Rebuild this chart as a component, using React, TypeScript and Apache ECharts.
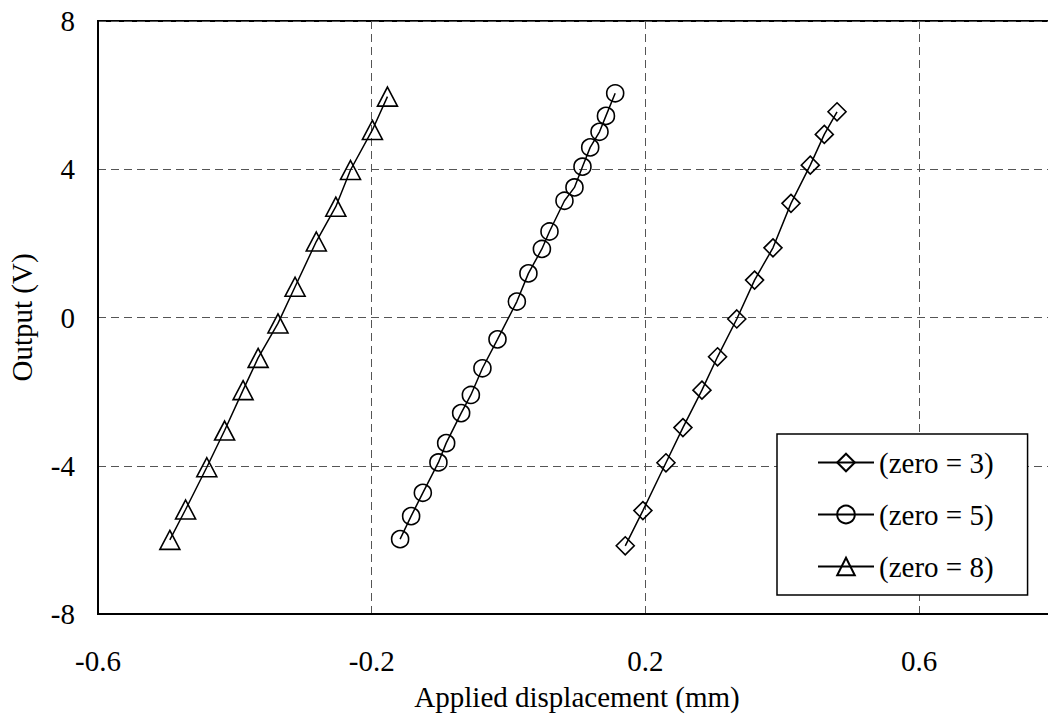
import React, { useEffect, useRef } from "react";
import * as echarts from "echarts";

const seriesNames = ["(zero = 3)", "(zero = 5)", "(zero = 8)"];

const zero3X = [0.1705, 0.1963, 0.23, 0.2548, 0.2826, 0.3054, 0.3335, 0.3595, 0.3864, 0.4127, 0.4409, 0.4614, 0.48];
const zero3Y = [-6.16, -5.21, -3.92, -2.97, -1.96, -1.06, -0.04, 1.01, 1.88, 3.08, 4.11, 4.94, 5.55];

const zero5X = [-0.1585, -0.1424, -0.1253, -0.1025, -0.0912, -0.0693, -0.0551, -0.0382, -0.0162, 0.0121, 0.029, 0.0487, 0.0598, 0.0817, 0.0963, 0.108, 0.1193, 0.1329, 0.1423, 0.1558];
const zero5Y = [-5.98, -5.36, -4.73, -3.91, -3.39, -2.58, -2.09, -1.37, -0.59, 0.43, 1.19, 1.85, 2.32, 3.15, 3.51, 4.07, 4.59, 5.01, 5.44, 6.05];

const zero8X = [-0.495, -0.472, -0.441, -0.415, -0.388, -0.366, -0.337, -0.312, -0.281, -0.2525, -0.231, -0.199, -0.177];
const zero8Y = [-6.0, -5.18, -4.04, -3.05, -1.96, -1.09, -0.16, 0.83, 2.05, 2.99, 3.98, 5.06, 5.96];

const xAxisTitle = "Applied displacement (mm)";
const yAxisTitle = "Output (V)";

const FONT = "Liberation Serif";

function zip(xs: number[], ys: number[]) {
  return xs.map((x, i) => [x, ys[i]]);
}

export default function App() {
  const ref = useRef<HTMLDivElement>(null);
  useEffect(() => {
    if (!ref.current) return;
    const chart = echarts.init(ref.current, undefined, { renderer: "svg" });
    const markerStyle = { color: "rgba(0,0,0,0)", borderColor: "#000", borderWidth: 1.6 };
    const lineStyle = { color: "#000", width: 1.5 };
    const mk = (name: string, xs: number[], ys: number[], symbol: string, size: any) => ({
      name,
      type: "line",
      data: zip(xs, ys),
      symbol,
      symbolSize: size,
      showAllSymbol: true,
      itemStyle: markerStyle,
      lineStyle,
      emphasis: { disabled: true },
      silent: true,
    });
    chart.setOption({
      animation: false,
      backgroundColor: "#fff",
      textStyle: { fontFamily: FONT },
      grid: {
        left: 98,
        right: -8,
        top: 21,
        bottom: 108,
        outerBoundsMode: "none",
        containLabel: false,
        show: true,
        borderColor: "#000",
        borderWidth: 2,
        backgroundColor: "rgba(0,0,0,0)",
      },
      xAxis: {
        type: "value",
        min: -0.6,
        max: 0.8,
        interval: 0.4,
        name: xAxisTitle,
        nameLocation: "middle",
        nameGap: 68,
        nameTextStyle: { fontFamily: FONT, fontSize: 29, color: "#000" },
        axisLine: { show: true, onZero: false, lineStyle: { color: "#000", width: 2 } },
        axisTick: { show: false },
        axisLabel: { showMaxLabel: false, margin: 32, fontFamily: FONT, fontSize: 29, color: "#000" },
        splitLine: { show: true, lineStyle: { color: "#555", type: [8, 5], width: 1 } },
      },
      yAxis: {
        type: "value",
        min: -8,
        max: 8,
        interval: 4,
        name: yAxisTitle,
        nameLocation: "middle",
        nameGap: 62,
        nameTextStyle: { fontFamily: FONT, fontSize: 29, color: "#000" },
        axisLine: { show: true, onZero: false, lineStyle: { color: "#000", width: 2 } },
        axisTick: { show: false },
        axisLabel: { margin: 23, fontFamily: FONT, fontSize: 29, color: "#000" },
        splitLine: { show: true, lineStyle: { color: "#555", type: [8, 5], width: 1 } },
      },
      legend: {
        orient: "vertical",
        left: 777,
        top: 434,
        padding: [14, 34, 14, 40],
        itemWidth: 56,
        itemHeight: 22,
        itemGap: 23,
        borderColor: "#000",
        borderWidth: 1.5,
        backgroundColor: "#fff",
        textStyle: { fontFamily: FONT, fontSize: 29, color: "#000" },
        data: seriesNames,
      },
      series: [
        mk(seriesNames[0], zero3X, zero3Y, "diamond", 18),
        mk(seriesNames[1], zero5X, zero5Y, "circle", 17),
        mk(seriesNames[2], zero8X, zero8Y, "triangle", [20, 19]),
      ],
    });
    return () => chart.dispose();
  }, []);
  return <div ref={ref} style={{ position: "absolute", left: 0, top: 0, width: 1048, height: 722 }} />;
}
